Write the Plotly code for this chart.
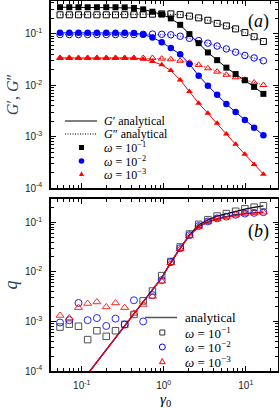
import plotly.graph_objects as go

# ---------------- data ----------------
gamma0 = [0.0543, 0.0705, 0.0912, 0.118, 0.153, 0.199, 0.258, 0.334, 0.433, 0.561,
          0.728, 0.944, 1.22, 1.585, 2.055, 2.664, 3.452, 4.477, 5.80, 7.52,
          9.75, 12.64, 16.4]

# panel (a): storage G' (filled) and loss G'' (open)
Gp_w1 = [0.33, 0.33, 0.33, 0.33, 0.33, 0.33, 0.33, 0.328, 0.32, 0.30, 0.27, 0.24,
         0.20, 0.150, 0.099, 0.066, 0.0435, 0.0308, 0.022, 0.0165, 0.0125, 0.0093, 0.0068]
Gpp_w1 = [0.235, 0.235, 0.235, 0.235, 0.235, 0.235, 0.235, 0.236, 0.237, 0.239, 0.242,
          0.245, 0.245, 0.237, 0.222, 0.205, 0.184, 0.16, 0.143, 0.125, 0.106, 0.088, 0.071]
Gp_w2 = [0.105, 0.105, 0.105, 0.105, 0.105, 0.105, 0.105, 0.105, 0.104, 0.097, 0.085,
         0.069, 0.053, 0.040, 0.026, 0.0153, 0.0098, 0.0065, 0.0043, 0.0030, 0.0021,
         0.00149, 0.00106]
Gpp_w2 = [0.097, 0.097, 0.097, 0.097, 0.097, 0.097, 0.097, 0.097, 0.097, 0.098, 0.099,
          0.098, 0.096, 0.090, 0.082, 0.074, 0.066, 0.058, 0.051, 0.044, 0.038, 0.034, 0.030]
Gp_w3 = [0.034, 0.034, 0.034, 0.034, 0.034, 0.034, 0.034, 0.034, 0.034, 0.032, 0.029,
         0.025, 0.0193, 0.0127, 0.0076, 0.00446, 0.00284, 0.00182, 0.00112, 0.000707,
         0.000452, 0.000288, 0.000186]
Gpp_w3 = [0.034, 0.034, 0.034, 0.034, 0.034, 0.034, 0.034, 0.034, 0.034, 0.034, 0.034,
          0.033, 0.032, 0.030, 0.0276, 0.0249, 0.0214, 0.0184, 0.016, 0.0143, 0.0128,
          0.0113, 0.0101]

# panel (b): q
q_w1 = [7.7e-4, 8.8e-4, 8.0e-4, 4.3e-4, 6.5e-4, 5.0e-4, 6.5e-4, 8.7e-4, 1.38e-3, 2.6e-3,
        4.1e-3, 8.4e-3, 0.0162, 0.0318, 0.058, 0.091, 0.113, 0.134, 0.15, 0.167, 0.187,
        0.202, 0.215]
q_w2 = [9.5e-4, 1.06e-3, 2.36e-3, 1.06e-3, 1.17e-3, 8.1e-4, 1.14e-3, 8.7e-4, 2.67e-3, 1.0e-3,
        3.4e-3, 6.8e-3, 0.0158, 0.030, 0.055, 0.084, 0.104, 0.12, 0.13, 0.142, 0.15,
        0.155, 0.16]
q_w3 = [1.32e-3, 1.17e-3, 1.9e-3, 2.3e-3, 2.47e-3, 1.96e-3, 2.36e-3, 1.9e-3, 1.45e-3, 2.2e-3,
        3.2e-3, 6.5e-3, 0.0152, 0.029, 0.053, 0.082, 0.102, 0.118, 0.13, 0.14, 0.15,
        0.155, 0.16]

gamma_an = [0.1, 0.126, 0.2, 0.3, 0.433, 0.561, 0.728, 0.944, 1.22, 1.585, 2.055, 2.664,
            3.452, 4.477, 5.8, 7.52, 9.75, 12.64, 16.4]
q_an_w1 = [6.1e-5, 1e-4, 2.7e-4, 6.4e-4, 1.4e-3, 2.45e-3, 4.2e-3, 7.6e-3, 0.0155, 0.0305,
           0.056, 0.088, 0.112, 0.133, 0.15, 0.167, 0.185, 0.2, 0.215]
q_an_w2 = [6.1e-5, 1e-4, 2.7e-4, 6.4e-4, 1.4e-3, 2.45e-3, 4.2e-3, 7.6e-3, 0.0155, 0.030,
           0.054, 0.082, 0.102, 0.118, 0.13, 0.141, 0.149, 0.155, 0.16]
q_an_w3 = [6.1e-5, 1e-4, 2.7e-4, 6.4e-4, 1.4e-3, 2.45e-3, 4.2e-3, 7.6e-3, 0.0155, 0.030,
           0.054, 0.081, 0.101, 0.117, 0.129, 0.14, 0.148, 0.154, 0.159]

x_ticks = [0.1, 1, 10]
x_ticktext = ["10<sup>-1</sup>", "10<sup>0</sup>", "10<sup>1</sup>"]
y_ticks = [1e-4, 1e-3, 1e-2, 1e-1]
y_ticktext = ["10<sup>-4</sup>", "10<sup>-3</sup>", "10<sup>-2</sup>", "10<sup>-1</sup>"]

BLACK, BLUE, RED = "#000000", "#0000ff", "#ff0000"
SERIF = "Liberation Serif"
SANS = "Liberation Sans"

# ---------------- geometry ----------------
W, H = 279, 408
ML, MR, MT, MB = 51, 1, 1, 37
PW, PH = W - ML - MR, H - MT - MB


def px(x, y):
    """pixel -> paper coordinates"""
    return (x - ML) / PW, (H - MB - y) / PH


fig = go.Figure()

# ---------------- panel (a) ----------------
series_a = [
    (Gp_w1, Gpp_w1, BLACK, "square", 6),
    (Gp_w2, Gpp_w2, BLUE, "circle", 6.5),
    (Gp_w3, Gpp_w3, RED, "triangle-up", 6),
]
for gp, gpp, col, sym, sz in series_a:
    fig.add_trace(go.Scatter(x=gamma0, y=gpp, mode="lines+markers", xaxis="x", yaxis="y",
                             line=dict(color=col, width=1, dash="1px,1.5px"),
                             marker=dict(symbol=sym + "-open", size=sz, color=col,
                                         line=dict(width=1, color=col)),
                             showlegend=False))
for gp, gpp, col, sym, sz in series_a:
    fig.add_trace(go.Scatter(x=gamma0, y=gp, mode="lines+markers", xaxis="x", yaxis="y",
                             line=dict(color=col, width=1),
                             marker=dict(symbol=sym, size=sz, color=col, line=dict(width=0)),
                             showlegend=False))

# ---------------- panel (b) ----------------
for qa, col in [(q_an_w1, BLACK), (q_an_w2, BLUE), (q_an_w3, RED)]:
    fig.add_trace(go.Scatter(x=gamma_an, y=qa, mode="lines", xaxis="x2", yaxis="y2",
                             line=dict(color=col, width=1.2), showlegend=False))
for q, col, sym, sz in [(q_w1, "#333333", "square-open", 6.5),
                        (q_w2, BLUE, "circle-open", 7),
                        (q_w3, RED, "triangle-up-open", 7)]:
    fig.add_trace(go.Scatter(x=gamma0, y=q, mode="markers", xaxis="x2", yaxis="y2",
                             marker=dict(symbol=sym, size=sz, color=col, line=dict(width=1, color=col)),
                             opacity=0.85, showlegend=False))

# ---------------- axes ----------------
minor_x = [m * 10 ** e for e in range(-2, 2) for m in range(2, 10)]
minor_y = [m * 10 ** e for e in range(-5, 0) for m in range(2, 10)]
tickfont = dict(family=SANS, size=10, color="#222222")
common = dict(type="log", showline=True, linecolor="black", linewidth=1.5, mirror="allticks",
              ticks="inside", ticklen=5, tickwidth=1, tickcolor="black", showgrid=False,
              zeroline=False, tickfont=tickfont, ticklabelstandoff=5)
fig.update_layout(
    xaxis=dict(common, domain=[0, 1], anchor="y", range=[-1.375, 1.393], tickmode="array",
               tickvals=x_ticks, ticktext=x_ticktext, showticklabels=False,
               minor=dict(tickmode="array", tickvals=minor_x, ticks="inside", ticklen=3,
                          tickcolor="black", showgrid=False)),
    yaxis=dict(common, domain=[(H - MB - 188) / PH, 1], anchor="x", range=[-4, -0.36],
               tickmode="array", tickvals=y_ticks, ticktext=y_ticktext,
               minor=dict(tickmode="array", tickvals=minor_y, ticks="inside", ticklen=3,
                          tickcolor="black", showgrid=False),
               title=dict(text="<i>G</i>′, <i>G</i>″", font=dict(family=SERIF, size=16), standoff=2)),
    xaxis2=dict(common, domain=[0, 1], anchor="y2", range=[-1.375, 1.393], tickmode="array",
                tickvals=x_ticks, ticktext=x_ticktext, ticklabelstandoff=4,
                minor=dict(tickmode="array", tickvals=minor_x, ticks="inside", ticklen=3,
                           tickcolor="black", showgrid=False)),
    yaxis2=dict(common, domain=[0, (H - MB - 199) / PH], anchor="x2", range=[-4, -0.53],
                tickmode="array", tickvals=y_ticks, ticktext=y_ticktext,
                minor=dict(tickmode="array", tickvals=minor_y, ticks="inside", ticklen=3,
                           tickcolor="black", showgrid=False),
                title=dict(text="<i>q</i>", font=dict(family=SERIF, size=18), standoff=3)),
)

# ---------------- legends (drawn manually) ----------------
shapes, annos = [], []


def seg(x0, x1, y, color, dash="solid", width=1):
    a, b = px(x0, y)
    c, _ = px(x1, y)
    shapes.append(dict(type="line", xref="paper", yref="paper", x0=a, y0=b, x1=c, y1=b,
                       line=dict(color=color, width=width, dash=dash)))


def square(cx, cy, s, color, fill=True):
    a, b = px(cx - s / 2, cy + s / 2)
    c, d = px(cx + s / 2, cy - s / 2)
    shapes.append(dict(type="rect", xref="paper", yref="paper", x0=a, y0=b, x1=c, y1=d,
                       fillcolor=color if fill else "rgba(0,0,0,0)",
                       line=dict(color=color, width=1 if not fill else 0)))


def circle(cx, cy, r, color, fill=True):
    a, b = px(cx - r, cy + r)
    c, d = px(cx + r, cy - r)
    shapes.append(dict(type="circle", xref="paper", yref="paper", x0=a, y0=b, x1=c, y1=d,
                       fillcolor=color if fill else "rgba(0,0,0,0)",
                       line=dict(color=color, width=1 if not fill else 0)))


def triangle(cx, cy, s, color, fill=True):
    p1 = px(cx, cy - s * 0.55)
    p2 = px(cx - s / 2, cy + s * 0.4)
    p3 = px(cx + s / 2, cy + s * 0.4)
    path = "M {} {} L {} {} L {} {} Z".format(p1[0], p1[1], p2[0], p2[1], p3[0], p3[1])
    shapes.append(dict(type="path", xref="paper", yref="paper", path=path,
                       fillcolor=color if fill else "rgba(0,0,0,0)",
                       line=dict(color=color, width=1 if not fill else 0)))


def label(x, y, text, size=11, anchor="left"):
    a, b = px(x, y)
    annos.append(dict(xref="paper", yref="paper", x=a, y=b, text=text, showarrow=False,
                      xanchor=anchor, yanchor="middle",
                      font=dict(family=SERIF, size=size, color="black")))


# legend (a)
LA = 12
seg(65, 97, 121, BLACK)
label(102, 121, "<i>G</i>′ analytical", LA)
seg(65, 97, 134, BLACK, dash="1px,1.5px")
label(102, 134, "<i>G</i>″ analytical", LA)
square(81.5, 147.5, 5, BLACK)
label(102, 147.5, "<i>ω</i> = 10<sup>−1</sup>", LA)
circle(81.5, 161, 2.8, BLUE)
label(102, 161, "<i>ω</i> = 10<sup>−2</sup>", LA)
triangle(81.5, 174, 5, RED)
label(102, 174, "<i>ω</i> = 10<sup>−3</sup>", LA)

# legend (b)
LB = 13
seg(145, 177, 317.5, "#555555", width=1.5)
label(183, 317.5, "analytical", LB)
square(162.3, 332.5, 5, "#333333", fill=False)
label(183, 332.5, "<i>ω</i> = 10<sup>−1</sup>", LB)
circle(162.3, 347, 3, BLUE, fill=False)
label(183, 347, "<i>ω</i> = 10<sup>−2</sup>", LB)
triangle(162.3, 361.5, 5.5, RED, fill=False)
label(183, 361.5, "<i>ω</i> = 10<sup>−3</sup>", LB)

# x-axis title of the bottom panel
label(165, 399.5, "<i>γ</i><sub>0</sub>", 15, anchor="center")

# panel labels
for (x, y, t) in [(258, 21, "(<i>a</i>)"), (258, 231, "(<i>b</i>)")]:
    a, b = px(x, y)
    annos.append(dict(xref="paper", yref="paper", x=a, y=b, text=t, showarrow=False,
                      xanchor="center", yanchor="middle",
                      font=dict(family=SERIF, size=18, color="black")))

fig.update_layout(shapes=shapes, annotations=annos, width=W, height=H,
                  margin=dict(l=ML, r=MR, t=MT, b=MB, autoexpand=False),
                  paper_bgcolor="white", plot_bgcolor="white", showlegend=False)

fig.write_html("out.html", config={"displayModeBar": False},
               post_script="document.body.style.margin='0';document.body.style.overflow='hidden';")
